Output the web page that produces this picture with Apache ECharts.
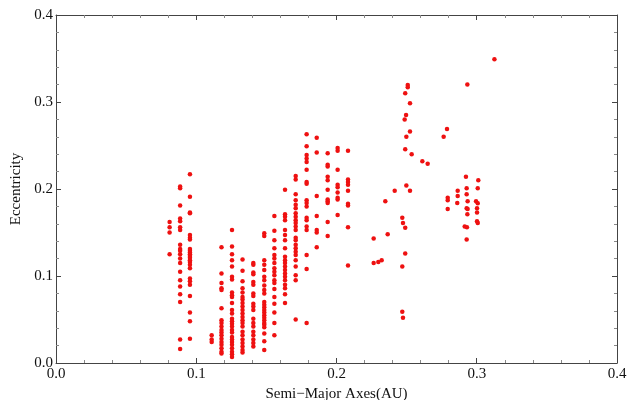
<!DOCTYPE html>
<html>
<head>
<meta charset="utf-8">
<script src="https://cdn.jsdelivr.net/npm/echarts@6/dist/echarts.min.js"></script>
<style>
  html, body { margin: 0; padding: 0; background: #fff; }
  #main { width: 635px; height: 400px; }
</style>
</head>
<body>
<div id="main"></div>
<script>
// semi-major axis of each column of planets (AU)
const columnAxes = [0.081, 0.0885, 0.0955, 0.111, 0.118, 0.1255, 0.133, 0.1407, 0.1485,
  0.1557, 0.1633, 0.1709, 0.1787, 0.1859, 0.1937, 0.2008, 0.2082];

// eccentricities for each column, same order as columnAxes
const columnEcc = [
  [0.162, 0.156, 0.150, 0.125],
  [0.203, 0.201, 0.181, 0.166, 0.163, 0.156, 0.153, 0.136, 0.131, 0.129, 0.125, 0.120, 0.115,
    0.105, 0.095, 0.088, 0.079, 0.070, 0.027, 0.016],
  [0.217, 0.191, 0.173, 0.172, 0.147, 0.144, 0.142, 0.131, 0.129, 0.127, 0.125, 0.123, 0.121,
    0.118, 0.116, 0.113, 0.109, 0.097, 0.094, 0.090, 0.077, 0.058, 0.048, 0.028],
  [0.032, 0.027, 0.024],
  [0.133, 0.103, 0.092, 0.086, 0.084, 0.063, 0.049, 0.046, 0.042, 0.038, 0.035, 0.032, 0.028,
    0.024, 0.021, 0.017, 0.013, 0.011],
  [0.153, 0.134, 0.125, 0.118, 0.111, 0.099, 0.096, 0.081, 0.078, 0.076, 0.069, 0.061, 0.057,
    0.051, 0.048, 0.045, 0.042, 0.038, 0.035, 0.030, 0.027, 0.024, 0.021, 0.017, 0.013, 0.010, 0.007],
  [0.119, 0.106, 0.094, 0.086, 0.081, 0.076, 0.073, 0.069, 0.065, 0.061, 0.057, 0.053, 0.049,
    0.046, 0.042, 0.036, 0.032, 0.027, 0.023, 0.019, 0.015, 0.012],
  [0.115, 0.113, 0.104, 0.102, 0.093, 0.090, 0.080, 0.077, 0.068, 0.065, 0.061, 0.051, 0.046,
    0.042, 0.036, 0.032, 0.027, 0.023, 0.019],
  [0.149, 0.146, 0.118, 0.113, 0.107, 0.099, 0.095, 0.089, 0.084, 0.080, 0.070, 0.067, 0.064,
    0.061, 0.058, 0.055, 0.052, 0.049, 0.046, 0.044, 0.041, 0.034, 0.025, 0.015],
  [0.169, 0.152, 0.141, 0.132, 0.124, 0.120, 0.115, 0.109, 0.105, 0.101, 0.095, 0.092, 0.085,
    0.076, 0.068, 0.058, 0.046, 0.032],
  [0.199, 0.171, 0.168, 0.164, 0.153, 0.147, 0.141, 0.132, 0.122, 0.118, 0.115, 0.111, 0.107,
    0.103, 0.099, 0.095, 0.090, 0.086, 0.079, 0.069],
  [0.215, 0.211, 0.194, 0.187, 0.182, 0.178, 0.172, 0.168, 0.164, 0.161, 0.157, 0.153, 0.144,
    0.141, 0.136, 0.132, 0.128, 0.124, 0.118, 0.111, 0.101, 0.095, 0.050],
  [0.263, 0.249, 0.239, 0.235, 0.231, 0.222, 0.208, 0.206, 0.187, 0.184, 0.180, 0.167, 0.164,
    0.157, 0.153, 0.124, 0.108, 0.046],
  [0.259, 0.242, 0.192, 0.169, 0.153, 0.150, 0.133],
  [0.241, 0.228, 0.226, 0.214, 0.210, 0.199, 0.188, 0.186, 0.184, 0.162, 0.146],
  [0.247, 0.244, 0.222, 0.205, 0.202, 0.196, 0.190, 0.188, 0.170],
  [0.244, 0.211, 0.208, 0.205, 0.198, 0.183, 0.181, 0.156, 0.112]
];

// the scattered outer planets: [semi-major axis, eccentricity]
const outerPlanets = [
  [0.3126, 0.349], [0.2933, 0.320],
  [0.2508, 0.3195], [0.2508, 0.317], [0.249, 0.310], [0.2524, 0.2985], [0.2496, 0.285],
  [0.2486, 0.280], [0.2524, 0.266], [0.2498, 0.260], [0.249, 0.2456], [0.2536, 0.240],
  [0.2612, 0.232], [0.265, 0.229], [0.2788, 0.269], [0.2764, 0.260],
  [0.2498, 0.204], [0.2415, 0.198], [0.2524, 0.198], [0.2348, 0.186],
  [0.2469, 0.167], [0.2474, 0.161], [0.249, 0.1555], [0.2365, 0.148], [0.2265, 0.143],
  [0.249, 0.126], [0.2265, 0.115], [0.2298, 0.116], [0.2322, 0.118], [0.2469, 0.111],
  [0.2469, 0.059], [0.2474, 0.052],
  [0.2923, 0.214], [0.3011, 0.210], [0.2928, 0.201], [0.3007, 0.201], [0.2864, 0.198],
  [0.2928, 0.194], [0.2864, 0.192], [0.2793, 0.190], [0.2793, 0.187], [0.2995, 0.186],
  [0.2935, 0.186], [0.3007, 0.1835], [0.2861, 0.184], [0.2928, 0.178], [0.2935, 0.177],
  [0.3002, 0.178], [0.2793, 0.177], [0.3002, 0.173], [0.2933, 0.171], [0.3002, 0.163],
  [0.3007, 0.161], [0.2914, 0.157], [0.2930, 0.156], [0.2928, 0.142]
];

const xTicks = [0.0, 0.1, 0.2, 0.3, 0.4];
const yTicks = [0.0, 0.1, 0.2, 0.3, 0.4];

const points = [];
columnAxes.forEach((a, i) => {
  columnEcc[i].forEach((e) => points.push([a, e]));
});
outerPlanets.forEach((p) => points.push(p));

const chart = echarts.init(document.getElementById('main'));

const font = '"Liberation Serif", "DejaVu Serif", serif';
const lineColor = '#444';

function frameAxis(pos, ticks, showLabel, extra) {
  return Object.assign({
    type: 'value',
    position: pos,
    min: ticks[0],
    max: ticks[ticks.length - 1],
    interval: 0.1,
    axisLine: { show: true, onZero: false, lineStyle: { color: lineColor, width: 1 } },
    axisTick: { show: true, inside: true, length: 5, lineStyle: { color: lineColor } },
    minorTick: { show: true, splitNumber: 5, length: 3, lineStyle: { color: '#888' } },
    splitLine: { show: false },
    axisLabel: {
      show: showLabel,
      color: '#111',
      fontFamily: font,
      fontSize: 15,
      formatter: (v) => v.toFixed(1)
    }
  }, extra || {});
}

const options = {
  animation: false,
  grid: { left: 56, right: 18, top: 15, bottom: 37, outerBoundsMode: 'none' },
  xAxis: [
    frameAxis('bottom', xTicks, true, {
      name: 'Semi\u2212Major Axes(AU)',
      nameLocation: 'middle',
      nameGap: 16,
      nameTextStyle: { color: '#111', fontFamily: font, fontSize: 15, verticalAlign: 'top' },
      axisLabel: {
        color: '#111', fontFamily: font, fontSize: 15, margin: 4,
        formatter: (v) => v.toFixed(1)
      }
    }),
    frameAxis('top', xTicks, false)
  ],
  yAxis: [
    frameAxis('left', yTicks, true, {
      name: 'Eccentricity',
      nameLocation: 'middle',
      nameGap: 27,
      nameTextStyle: { color: '#111', fontFamily: font, fontSize: 15 },
      axisLabel: {
        color: '#111', fontFamily: font, fontSize: 15, margin: 3,
        formatter: (v) => v.toFixed(1)
      }
    }),
    frameAxis('right', yTicks, false)
  ],
  series: [{
    type: 'scatter',
    xAxisIndex: 0,
    yAxisIndex: 0,
    data: points,
    symbolSize: 4.5,
    itemStyle: { color: '#ee1111', opacity: 1 }
  }]
};

chart.setOption(options);
</script>
</body>
</html>
